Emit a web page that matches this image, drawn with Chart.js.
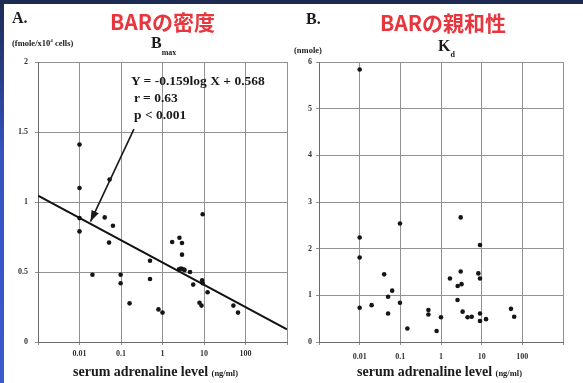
<!DOCTYPE html>
<html><head><meta charset="utf-8">
<script src="https://cdn.jsdelivr.net/npm/chart.js@4.4.1/dist/chart.umd.min.js"></script>
<style>
html,body{margin:0;padding:0;background:#fff;}
#wrap{position:relative;width:583px;height:383px;overflow:hidden;background:#fff;}
canvas{position:absolute;top:0;}
.t{position:absolute;white-space:nowrap;line-height:1;transform:translateY(-50%);color:#1a1a1a;font-family:"Liberation Serif",serif;font-weight:bold;}
.red{color:#e8363f;font-family:"Noto Sans CJK JP","Noto Sans",sans-serif;font-weight:bold;font-size:21px;}
#topband{position:absolute;left:0;top:0;width:583px;height:4px;background:#1d2b52;}
#leftband{position:absolute;left:0;top:0;width:4px;height:383px;background:linear-gradient(#1d2b52,#3552c0 40%,#3a5ad0);}
</style></head>
<body><div id="wrap">
<canvas id="cA" width="291" height="383" style="left:0"></canvas>
<canvas id="cB" width="292" height="383" style="left:291px"></canvas>
<div id="topband"></div><div id="leftband"></div>

<div class="t" style="left:12px;top:18px;font-size:16px;">A.</div>
<div class="t red" style="left:110px;top:21px;">BARの密度</div>
<div class="t" style="left:12px;top:43px;font-size:8.5px;">(fmole/x10<sup style="font-size:5px">4</sup> cells)</div>
<div class="t" style="left:151px;top:43px;font-size:16px;">B<span style="font-size:8px;position:relative;top:7px;">max</span></div>
<div class="t" style="left:131px;top:81px;font-size:13.5px;">Y = -0.159log X + 0.568</div>
<div class="t" style="left:134px;top:98px;font-size:13.5px;">r = 0.63</div>
<div class="t" style="left:134px;top:115px;font-size:13.5px;">p &lt; 0.001</div>
<div class="t" style="left:73px;top:372px;font-size:14px;">serum adrenaline level <span style="font-size:8.5px">(ng/ml)</span></div>

<div class="t" style="left:306px;top:19px;font-size:16px;">B.</div>
<div class="t red" style="left:380px;top:22px;">BARの親和性</div>
<div class="t" style="left:294px;top:50px;font-size:8.5px;">(nmole)</div>
<div class="t" style="left:438px;top:46px;font-size:16px;">K<span style="font-size:8px;position:relative;top:6px;">d</span></div>
<div class="t" style="left:357px;top:372px;font-size:14px;">serum adrenaline level <span style="font-size:8.5px">(ng/ml)</span></div>
</div>
<script>
// ---- data ----
const xTicks = [0.001, 0.01, 0.1, 1, 10, 100, 1000];
const xTickLabels = ['', '0.01', '0.1', '1', '10', '100', ''];
const yTicksA = [0, 0.5, 1, 1.5, 2];
const yTickLabelsA = ['0', '0.5', '1', '1.5', '2'];
const yTicksB = [0, 1, 2, 3, 4, 5, 6];
const yTickLabelsB = ['0', '1', '2', '3', '4', '5', '6'];

const bmaxX = [0.01,0.01,0.01,0.01,0.053,0.0405,0.064,0.0515,0.5,0.5,0.0205,0.098,0.098,0.161,0.8,1.0,1.71,2.56,2.95,2.95,9.3,2.5,2.8,3.1,3.4,4.6,5.5,9.0,9.3,12.2,7.8,8.7,51,66];
const bmaxY = [1.41,1.10,0.885,0.79,1.16,0.89,0.83,0.71,0.58,0.45,0.48,0.48,0.42,0.276,0.233,0.21,0.714,0.745,0.707,0.624,0.912,0.52,0.525,0.52,0.515,0.50,0.41,0.44,0.42,0.355,0.28,0.26,0.26,0.21];

const regX = [0.001, 1000];
const regY = [1.045, 0.091];
const arrowX = [0.205, 0.0184];
const arrowY = [1.52, 0.86];

const kdX = [0.01,0.01,0.01,0.01,0.0197,0.04,0.05,0.063,0.05,0.098,0.098,0.149,0.49,0.49,0.78,1.0,1.66,2.57,3.2,3.05,3.05,2.55,3.4,4.5,5.7,8.3,9.1,9.1,9.1,9.1,12.8,52.6,63];
const kdY = [5.84,2.24,1.81,0.735,0.79,1.45,0.97,1.10,0.61,2.54,0.84,0.29,0.685,0.59,0.235,0.53,1.36,1.20,1.24,1.51,2.67,0.90,0.65,0.53,0.54,1.47,1.36,2.08,0.61,0.45,0.49,0.71,0.54];

const pts = (xs, ys) => xs.map((x, i) => ({x, y: ys[i]}));

const arrowPlugin = {
  id: 'arrowHead',
  afterDatasetsDraw(chart) {
    chart.data.datasets.forEach((ds, i) => {
      if (!ds.arrow) return;
      const d = chart.getDatasetMeta(i).data;
      const p0 = d[0], p1 = d[d.length - 1];
      const ang = Math.atan2(p1.y - p0.y, p1.x - p0.x);
      const L = 11, W = 4;
      const ctx = chart.ctx;
      ctx.save();
      ctx.fillStyle = '#1a1a1a';
      ctx.beginPath();
      ctx.moveTo(p1.x, p1.y);
      ctx.lineTo(p1.x - L*Math.cos(ang) + W*Math.sin(ang), p1.y - L*Math.sin(ang) - W*Math.cos(ang));
      ctx.lineTo(p1.x - L*Math.cos(ang) - W*Math.sin(ang), p1.y - L*Math.sin(ang) + W*Math.cos(ang));
      ctx.closePath();
      ctx.fill();
      ctx.restore();
    });
  }
};

const tickFont = {family: 'Liberation Serif', weight: 'bold', size: 8};
function opts(yMax, yTicks, yLabels, yW, pad, xPad, yPad) {
  return {
    responsive: false, animation: false,
    layout: {padding: pad},
    plugins: {legend: {display: false}, tooltip: {enabled: false}},
    scales: {
      x: {
        type: 'logarithmic', min: 0.001, max: 1000,
        afterBuildTicks: s => { s.ticks = xTicks.map(v => ({value: v})); },
        afterFit: s => { s.height = 41; },
        ticks: {callback: (v, i) => xTickLabels[i], font: tickFont, color: '#333', maxRotation: 0, autoSkip: false, padding: xPad},
        grid: {color: '#929292', lineWidth: 1, tickLength: 3},
        border: {color: '#6a6a6a', width: 1}
      },
      y: {
        min: 0, max: yMax,
        afterBuildTicks: s => { s.ticks = yTicks.map(v => ({value: v})); },
        afterFit: s => { s.width = yW; },
        ticks: {callback: (v, i) => yLabels[i], font: tickFont, color: '#333', padding: yPad},
        grid: {color: '#929292', lineWidth: 1, tickLength: 3},
        border: {color: '#6a6a6a', width: 1}
      }
    }
  };
}

new Chart(document.getElementById('cA'), {
  type: 'scatter',
  data: {datasets: [
    {data: pts(regX, regY), showLine: true, borderColor: '#111', borderWidth: 2, pointRadius: 0},
    {data: pts(arrowX, arrowY), showLine: true, borderColor: '#1a1a1a', borderWidth: 1.6, pointRadius: 0, arrow: true},
    {data: pts(bmaxX, bmaxY), pointRadius: 2.3, pointBackgroundColor: '#151515', pointBorderWidth: 0}
  ]},
  options: opts(2, yTicksA, yTickLabelsA, 38, {left: 0, top: 62, right: 3, bottom: 0}, 4, 7),
  plugins: [arrowPlugin]
});

new Chart(document.getElementById('cB'), {
  type: 'scatter',
  data: {datasets: [
    {data: pts(kdX, kdY), pointRadius: 2.3, pointBackgroundColor: '#151515', pointBorderWidth: 0}
  ]},
  options: opts(6, yTicksB, yTickLabelsB, 28, {left: 0, top: 62, right: 20, bottom: 0}, 7, 4)
});
</script>
</body></html>
